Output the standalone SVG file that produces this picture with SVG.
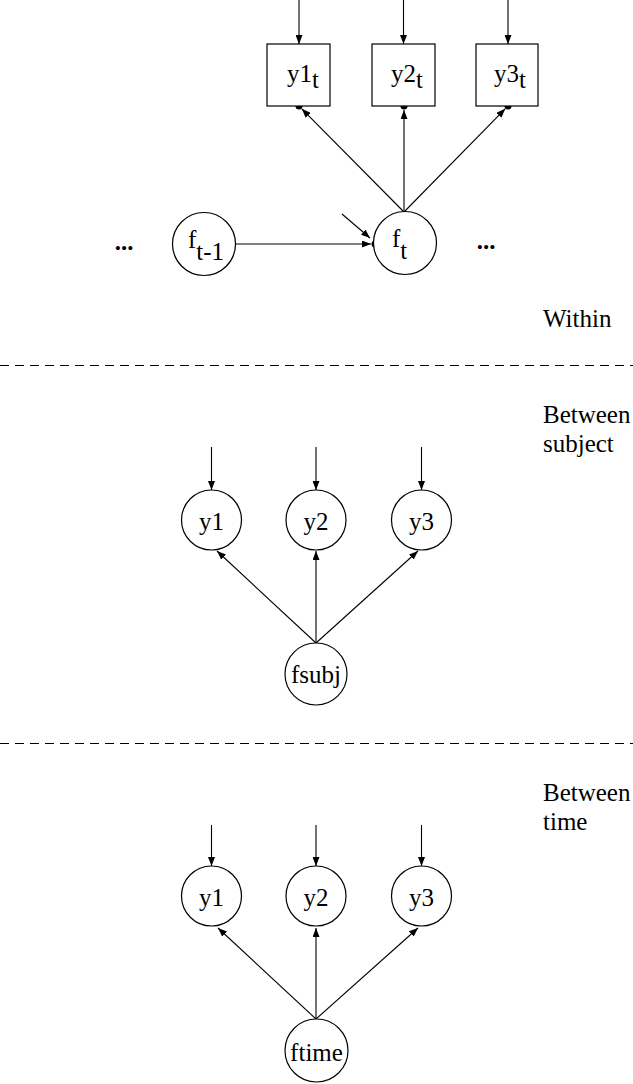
<svg xmlns="http://www.w3.org/2000/svg" width="633" height="1084" viewBox="0 0 633 1084">
<style>
  .nd { fill: #fff; stroke: #000; stroke-width: 1.2; }
  .ar { stroke: #000; stroke-width: 1.1; fill: none; marker-end: url(#ah); }
  .dash { stroke: #000; stroke-width: 1; stroke-dasharray: 9 6; }
  .tx { font-family: "Liberation Serif", "Times New Roman", serif; font-size: 25px; fill: #000; }
  .lb { font-family: "Liberation Serif", "Times New Roman", serif; font-size: 25px; fill: #000; }
  .dot { fill: #000; }
</style>
<defs>
  <marker id="ah" markerUnits="userSpaceOnUse" markerWidth="9" markerHeight="7" refX="9" refY="3.5" orient="auto">
    <path d="M0,0 L9,3.5 L0,7 z" fill="#000"/>
  </marker>
</defs>
<rect width="633" height="1084" fill="#fff"/>

<g id="connectors">
  <line class="ar" x1="299" y1="0" x2="299" y2="44"/>
  <line class="ar" x1="403.5" y1="0" x2="403.5" y2="44"/>
  <line class="ar" x1="508" y1="0" x2="508" y2="44"/>
  <line class="ar" x1="404" y1="212" x2="301.8" y2="108.8"/>
  <line class="ar" x1="404" y1="212" x2="404" y2="110"/>
  <line class="ar" x1="404" y1="212" x2="505.2" y2="108.8"/>
  <line class="ar" x1="236" y1="244" x2="371" y2="244"/>
  <line class="ar" x1="342" y1="214" x2="370" y2="238"/>
  <circle class="dot" cx="299" cy="106" r="3.5"/>
  <circle class="dot" cx="404" cy="106" r="3.5"/>
  <circle class="dot" cx="508" cy="106" r="3.5"/>
  <circle class="dot" cx="375" cy="244" r="3.5"/>
  <line class="ar" x1="211.5" y1="447" x2="211.5" y2="490"/>
  <line class="ar" x1="316" y1="447" x2="316" y2="490"/>
  <line class="ar" x1="421.5" y1="447" x2="421.5" y2="490"/>
  <line class="ar" x1="316" y1="643" x2="217" y2="551"/>
  <line class="ar" x1="316" y1="643" x2="316" y2="551"/>
  <line class="ar" x1="316" y1="643" x2="418" y2="551"/>
  <line class="ar" x1="211.5" y1="825" x2="211.5" y2="866"/>
  <line class="ar" x1="316" y1="825" x2="316" y2="866"/>
  <line class="ar" x1="421.5" y1="825" x2="421.5" y2="866"/>
  <line class="ar" x1="316" y1="1019" x2="218" y2="928"/>
  <line class="ar" x1="316" y1="1019" x2="316" y2="928"/>
  <line class="ar" x1="316" y1="1019" x2="418" y2="928"/>
</g>

<g id="dividers">
  <line class="dash" x1="0" y1="365.5" x2="633" y2="365.5"/>
  <line class="dash" x1="0" y1="743.5" x2="633" y2="743.5"/>
</g>

<g id="labels">
  <text class="lb" x="543" y="327">Within</text>
  <text class="lb" x="543" y="423">Between</text>
  <text class="lb" x="543" y="452">subject</text>
  <text class="lb" x="543" y="801">Between</text>
  <text class="lb" x="543" y="830">time</text>
  <text class="tx" x="124" y="250" text-anchor="middle" font-weight="bold" font-size="26">...</text>
  <text class="tx" x="486" y="249" text-anchor="middle" font-weight="bold" font-size="26">...</text>
</g>

<g id="y1t">
  <rect class="nd" x="267" y="44" width="63" height="62"/>
  <text class="tx" x="287" y="82">y1<tspan dy="6">t</tspan></text>
</g>
<g id="y2t">
  <rect class="nd" x="372" y="44" width="63" height="62"/>
  <text class="tx" x="391" y="82">y2<tspan dy="6">t</tspan></text>
</g>
<g id="y3t">
  <rect class="nd" x="476" y="44" width="62" height="62"/>
  <text class="tx" x="494" y="82">y3<tspan dy="6">t</tspan></text>
</g>
<g id="ft-1">
  <circle class="nd" cx="204" cy="244" r="31.5"/>
  <text class="tx" x="188" y="248">f<tspan dy="12">t-1</tspan></text>
</g>
<g id="ft">
  <circle class="nd" cx="405" cy="243" r="31.5"/>
  <text class="tx" x="392" y="247">f<tspan dy="12">t</tspan></text>
</g>

<g id="bs-y1"><circle class="nd" cx="211.5" cy="520" r="30"/><text class="tx" x="211.5" y="530" text-anchor="middle">y1</text></g>
<g id="bs-y2"><circle class="nd" cx="316" cy="520" r="30"/><text class="tx" x="316" y="530" text-anchor="middle">y2</text></g>
<g id="bs-y3"><circle class="nd" cx="421.5" cy="520" r="30"/><text class="tx" x="421.5" y="530" text-anchor="middle">y3</text></g>
<g id="fsubj"><circle class="nd" cx="316" cy="674" r="31"/><text class="tx" x="316" y="683" text-anchor="middle">fsubj</text></g>

<g id="bt-y1"><circle class="nd" cx="211.5" cy="896" r="30"/><text class="tx" x="211.5" y="906" text-anchor="middle">y1</text></g>
<g id="bt-y2"><circle class="nd" cx="316" cy="896" r="30"/><text class="tx" x="316" y="906" text-anchor="middle">y2</text></g>
<g id="bt-y3"><circle class="nd" cx="421.5" cy="896" r="30"/><text class="tx" x="421.5" y="906" text-anchor="middle">y3</text></g>
<g id="ftime"><circle class="nd" cx="316.5" cy="1050.5" r="31.5"/><text class="tx" x="316.5" y="1061" text-anchor="middle">ftime</text></g>
</svg>
